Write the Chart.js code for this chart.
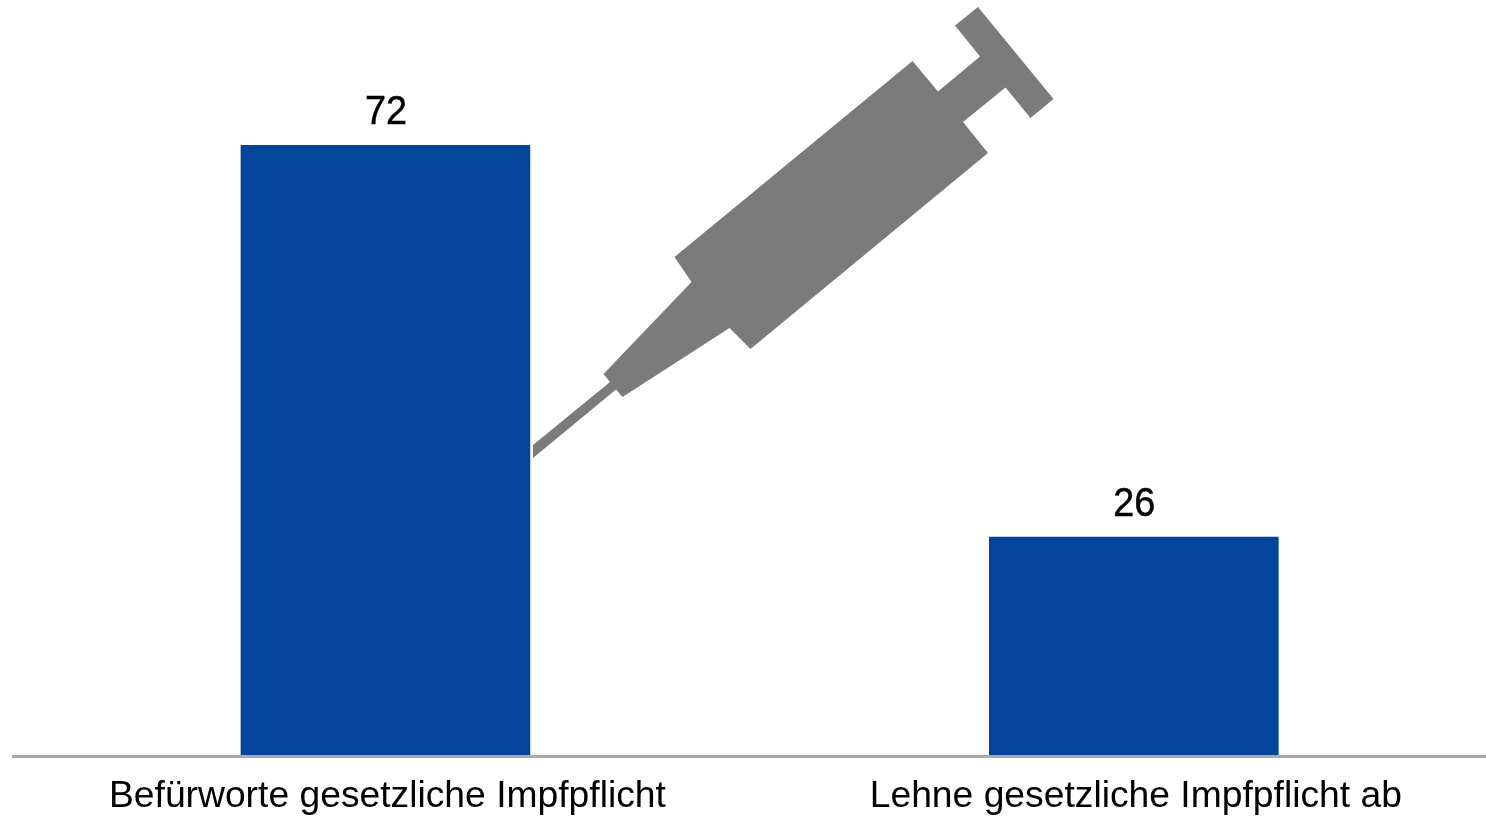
<!DOCTYPE html>
<html>
<head>
<meta charset="utf-8">
<title>Impfpflicht</title>
<style>
    html, body { margin: 0; padding: 0; background: #fff; overflow: hidden; }
    #chart { display: block; }
</style>
<script src="https://cdn.jsdelivr.net/npm/chart.js@4"></script>
</head>
<body>
<canvas id="chart" width="1508" height="816"></canvas>
<script>
const categories = ["Befürworte gesetzliche Impfpflicht", "Lehne gesetzliche Impfpflicht ab"];
const values = [72, 26];

// Umriss der Spritze (Dekoration, keine Daten)
const syringe = [
    [533, 458], [533, 445], [610, 382], [603.5, 374], [691.5, 282], [674.5, 257],
    [912.5, 61], [938, 91.5], [980, 56.5], [955, 25.5], [978, 7], [1053.5, 99],
    [1030.5, 118], [1005.5, 87.5], [963, 122], [988, 153], [750.5, 349], [729.5, 328],
    [622.5, 397], [616, 389.5]
];

const syringePlugin = {
    id: "syringe",
    afterDatasetsDraw(chart) {
        const ctx = chart.ctx;
        ctx.save();
        ctx.fillStyle = "#7b7b7b";
        ctx.beginPath();
        syringe.forEach((p, i) => i === 0 ? ctx.moveTo(p[0], p[1]) : ctx.lineTo(p[0], p[1]));
        ctx.closePath();
        ctx.fill();
        ctx.restore();
    }
};

// Achsenlinie liegt über den Balken und beginnt etwas rechts vom Plotbereich
const axisLine = {
    id: "axisLine",
    afterDatasetsDraw(chart) {
        const ctx = chart.ctx;
        ctx.save();
        ctx.fillStyle = "#aaaaaa";
        ctx.fillRect(12, chart.chartArea.bottom - 3, chart.width - 12, 3);
        ctx.restore();
    }
};

const valueLabels = {
    id: "valueLabels",
    afterDatasetsDraw(chart) {
        const ctx = chart.ctx;
        ctx.save();
        ctx.fillStyle = "#000";
        ctx.strokeStyle = "#000";
        ctx.lineWidth = 0.5;
        ctx.font = "40px 'Liberation Sans'";
        ctx.textAlign = "center";
        ctx.textBaseline = "alphabetic";
        chart.getDatasetMeta(0).data.forEach((bar, i) => {
            ctx.fillText(values[i], bar.x + 0.5, bar.y - 21, 42);
            ctx.strokeText(values[i], bar.x + 0.5, bar.y - 21, 42);
        });
        ctx.restore();
    }
};

new Chart(document.getElementById("chart"), {
    type: "bar",
    data: {
        labels: categories,
        datasets: [{
            data: values,
            backgroundColor: "#03459a",
            barPercentage: 1,
            categoryPercentage: 0.387
        }]
    },
    options: {
        responsive: false,
        animation: false,
        layout: { padding: { left: 11.25, right: 0, top: 0, bottom: 0 } },
        plugins: { legend: { display: false }, tooltip: { enabled: false } },
        scales: {
            x: {
                afterFit(scale) { scale.height = 58; },
                grid: { display: false, drawTicks: false },
                border: { display: false },
                ticks: {
                    color: "#000",
                    font: { family: "'Liberation Sans'", size: 37.25 },
                    padding: 16,
                    maxRotation: 0,
                    labelOffset: 2
                }
            },
            y: {
                display: false,
                min: 0,
                max: 89.03
            }
        }
    },
    plugins: [syringePlugin, axisLine, valueLabels]
});
</script>
</body>
</html>
